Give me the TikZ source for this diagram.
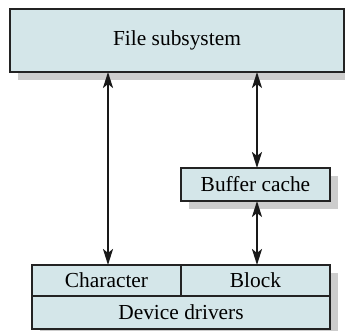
\documentclass[tikz,border=0pt]{standalone}
\usepackage{fontspec}
\setmainfont{Liberation Serif}
\usetikzlibrary{arrows.meta}
\definecolor{boxfill}{RGB}{212,230,233}
\definecolor{shadowgray}{RGB}{205,205,205}
\definecolor{edgecol}{RGB}{35,35,35}
\tikzset{
  px/.style={x=0.5pt,y=-0.5pt},
  blk/.style={draw=edgecol,fill=boxfill,line width=0.6pt,inner sep=0pt,outer sep=0pt,
    text=black,font=\fontsize{10.7}{12}\selectfont},
  arr/.style={line width=1.1pt,draw=black!90,{Stealth[length=8pt,width=5pt,inset=2pt]}-{Stealth[length=8pt,width=5pt,inset=2pt]}}
}
\begin{document}
\begin{tikzpicture}[px]
\useasboundingbox (0,0) rectangle (345,331);
\begin{scope}
\clip (0,0) rectangle (345,331);
% shadows
\fill[shadowgray] (18,17) rectangle (352,80);
\fill[shadowgray] (189,176) rectangle (338,209);
\fill[shadowgray] (40,273) rectangle (338,337);
% boxes
\node[blk,minimum width=167pt,minimum height=31.5pt] (fs) at (177,40.5) {File subsystem};
\node[blk,minimum width=74.5pt,minimum height=16.5pt] (buf) at (255.5,184.5) {Buffer cache};
\node[blk,minimum width=74.5pt,minimum height=15.5pt] (chr) at (106.5,280.5) {Character};
\node[blk,minimum width=74.5pt,minimum height=15.5pt] (blkn) at (255.5,280.5) {Block};
\node[blk,minimum width=149pt,minimum height=16.5pt] (dev) at (181,312.5) {Device drivers};
\end{scope}
% connectors
\coordinate (lx) at (108,0);
\coordinate (rx) at (257,0);
\draw[arr] (fs.south -| lx) -- (chr.north -| lx);
\draw[arr] (fs.south -| rx) -- (buf.north -| rx);
\draw[arr] (buf.south -| rx) -- (blkn.north -| rx);
\end{tikzpicture}
\end{document}
